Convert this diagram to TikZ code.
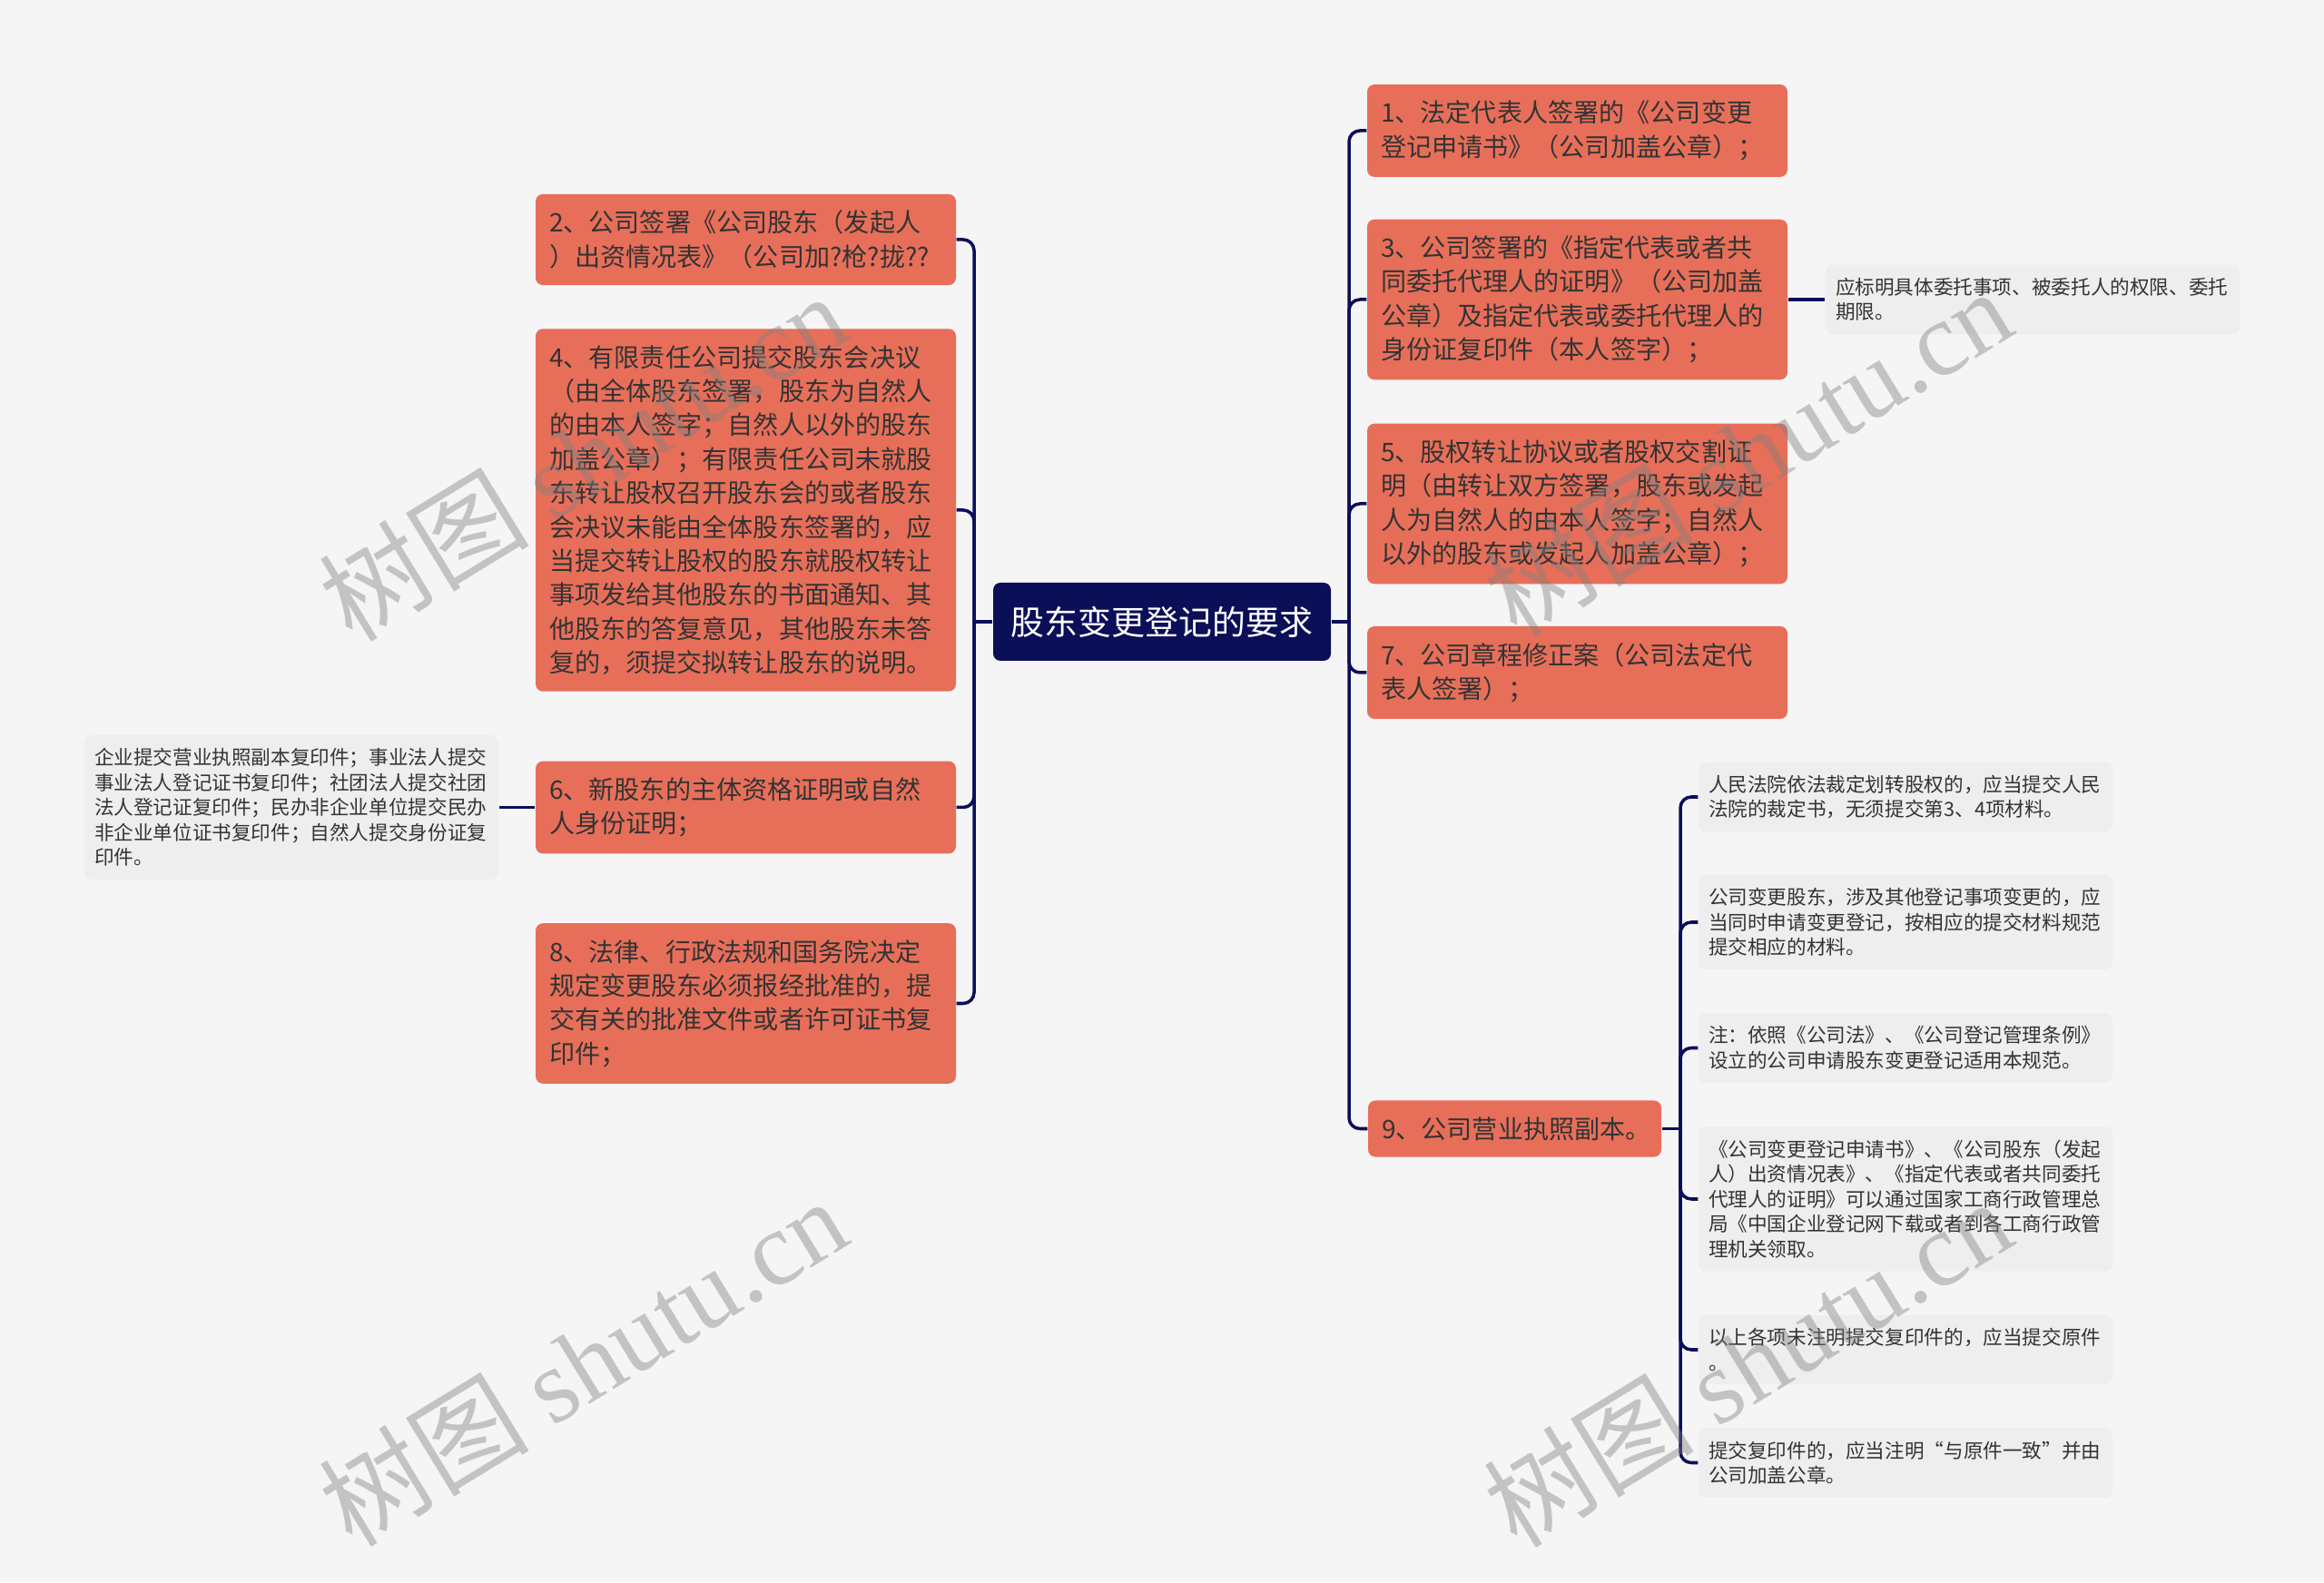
\documentclass[tikz,border=0pt]{standalone}
\usepackage{fontspec}
\setmainfont{Noto Sans CJK SC}
\newfontfamily\markfont{Liberation Serif}
\usepackage{tikz}

\definecolor{pagebg}{HTML}{F5F5F5}
\definecolor{itemfill}{HTML}{E76F5A}
\definecolor{navy}{HTML}{0B0F58}
\definecolor{notefill}{HTML}{EEEEEE}
\definecolor{inktext}{HTML}{333333}

\begin{document}
\begin{tikzpicture}[root_node/.style={rectangle,rounded corners=0.08cm,fill=navy,text=white,minimum width=3.72cm,minimum height=0.86cm,inner sep=0pt,font=\fontsize{10.5pt}{12pt}\selectfont},
	item_node/.style={rectangle,rounded corners=0.08cm,fill=itemfill,text=inktext,text width=4.33cm,align=left,inner xsep=0.15cm,inner ysep=0.18cm,font=\fontsize{8pt}{10.64pt}\selectfont},
	note_node/.style={rectangle,rounded corners=0.08cm,fill=notefill,text=inktext,text width=4.34cm,align=left,inner xsep=0.11cm,inner ysep=0.145cm,font=\fontsize{6.15pt}{7.82pt}\selectfont},
	link/.style={draw=navy,line width=1pt,rounded corners=0.12cm},
	mark_text/.style={text=gray,text opacity=0.42,rotate=31.5,inner sep=0pt,font=\fontsize{33pt}{35pt}\selectfont}]
		
		\fill[pagebg] (0,0) rectangle (25.60,17.43);
		\useasboundingbox (0,0) rectangle (25.60,17.43);
		
		\node[root_node] (root) at (12.80,10.58) {股东变更登记的要求};
		
		\node[item_node] (n2) at (8.215,14.79) {2、公司签署《公司股东（发起人\\）出资情况表》（公司加?枪?拢??};
		\node[item_node] (n4) at (8.215,11.81) {4、有限责任公司提交股东会决议\\（由全体股东签署，股东为自然人\\的由本人签字；自然人以外的股东\\加盖公章）；有限责任公司未就股\\东转让股权召开股东会的或者股东\\会决议未能由全体股东签署的，应\\当提交转让股权的股东就股权转让\\事项发给其他股东的书面通知、其\\他股东的答复意见，其他股东未答\\复的，须提交拟转让股东的说明。};
		\node[item_node] (n6) at (8.215,8.535) {6、新股东的主体资格证明或自然\\人身份证明；};
		\node[item_node] (n8) at (8.215,6.375) {8、法律、行政法规和国务院决定\\规定变更股东必须报经批准的，提\\交有关的批准文件或者许可证书复\\印件；};
		
		\node[item_node] (n1) at (17.375,15.99) {1、法定代表人签署的《公司变更\\登记申请书》（公司加盖公章）；};
		\node[item_node] (n3) at (17.375,14.13) {3、公司签署的《指定代表或者共\\同委托代理人的证明》（公司加盖\\公章）及指定代表或委托代理人的\\身份证复印件（本人签字）；};
		\node[item_node] (n5) at (17.375,11.88) {5、股权转让协议或者股权交割证\\明（由转让双方签署，股东或发起\\人为自然人的由本人签字；自然人\\以外的股东或发起人加盖公章）；};
		\node[item_node] (n7) at (17.375,10.02) {7、公司章程修正案（公司法定代\\表人签署）；};
		\node[item_node,text width=2.93cm] (n9) at (16.685,4.995) {9、公司营业执照副本。};
		
		\node[note_node] (note6) at (3.21,8.535) {企业提交营业执照副本复印件；事业法人提交\\事业法人登记证书复印件；社团法人提交社团\\法人登记证复印件；民办非企业单位提交民办\\非企业单位证书复印件；自然人提交身份证复\\印件。};
		\node[note_node] (note3) at (22.39,14.13) {应标明具体委托事项、被委托人的权限、委托\\期限。};
		
		\node[note_node] (n9a) at (20.99,8.65) {人民法院依法裁定划转股权的，应当提交人民\\法院的裁定书，无须提交第3、4项材料。};
		\node[note_node] (n9b) at (20.99,7.27) {公司变更股东，涉及其他登记事项变更的，应\\当同时申请变更登记，按相应的提交材料规范\\提交相应的材料。};
		\node[note_node] (n9c) at (20.99,5.885) {注：依照《公司法》、《公司登记管理条例》\\设立的公司申请股东变更登记适用本规范。};
		\node[note_node] (n9d) at (20.99,4.22) {《公司变更登记申请书》、《公司股东（发起\\人）出资情况表》、《指定代表或者共同委托\\代理人的证明》可以通过国家工商行政管理总\\局《中国企业登记网下载或者到各工商行政管\\理机关领取。};
		\node[note_node] (n9e) at (20.99,2.56) {以上各项未注明提交复印件的，应当提交原件\\。};
		\node[note_node] (n9f) at (20.99,1.315) {提交复印件的，应当注明“与原件一致”并由\\公司加盖公章。};
		
		\coordinate (ltrunk) at (10.73,10.58);
		\coordinate (rtrunk) at (14.86,10.58);
		\coordinate (subtrunk) at (18.51,4.995);
		
		\draw[link] (root.west) -- (ltrunk);
		\draw[link] (root.east) -- (rtrunk);
		\draw[link] (ltrunk) |- (n2.east);
		\draw[link] (ltrunk) |- (n4.east);
		\draw[link] (ltrunk) |- (n6.east);
		\draw[link] (ltrunk) |- (n8.east);
		\draw[link] (rtrunk) |- (n1.west);
		\draw[link] (rtrunk) |- (n3.west);
		\draw[link] (rtrunk) |- (n5.west);
		\draw[link] (rtrunk) |- (n7.west);
		\draw[link] (rtrunk) |- (n9.west);
		\draw[link] (n6.west) -- (note6.east);
		\draw[link] (n3.east) -- (note3.west);
		\draw[link] (n9.east) -- (subtrunk);
		\draw[link] (subtrunk) |- (n9a.west);
		\draw[link] (subtrunk) |- (n9b.west);
		\draw[link] (subtrunk) |- (n9c.west);
		\draw[link] (subtrunk) |- (n9d.west);
		\draw[link] (subtrunk) |- (n9e.west);
		\draw[link] (subtrunk) |- (n9f.west);
		
		\node[mark_text] (mark1) at (6.42,12.40) {树图 {\markfont shutu.cn}};
		\node[mark_text] (mark2) at (6.42,2.43) {树图 {\markfont shutu.cn}};
		\node[mark_text] (mark3) at (19.25,12.45) {树图 {\markfont shutu.cn}};
		\node[mark_text] (mark4) at (19.25,2.42) {树图 {\markfont shutu.cn}};
		\end{tikzpicture}
\end{document}
